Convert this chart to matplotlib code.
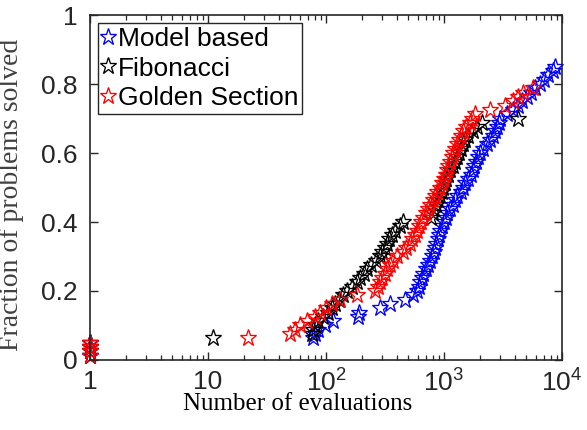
import matplotlib
matplotlib.use('Agg')
import matplotlib.pyplot as plt
from matplotlib.ticker import FixedLocator, LogLocator, NullFormatter

# numero de problemas no perfil
n_problemas = 80

# Model based (azul)
aval_modelo = [1, 1, 1, 1, 78, 80, 86, 98, 115, 187, 190, 287, 349, 467, 546, 590,
               610, 630, 650, 664, 700, 730, 761, 790, 815, 839, 860, 890, 910, 925,
               960, 1000, 1030, 1060, 1130, 1200, 1240, 1300, 1400, 1450, 1520, 1600,
               1680, 1762, 1800, 1880, 1950, 2020, 2150, 2300, 2455, 2600, 2700, 2800,
               2900, 2983, 3400, 3846, 4200, 4600, 5050, 5500, 5900, 6510, 7000, 7600,
               8390, 8800]
resolvidos_modelo = list(range(1, 69))

# Fibonacci (preto)
aval_fib = [1, 1, 1, 1, 11, 76, 78, 80, 86, 95, 105, 112, 120, 130, 139, 150, 165,
            183, 195, 210, 222, 240, 265, 287, 300, 315, 328, 345, 365, 385, 420, 450,
            780, 804, 830, 860, 890, 930, 960, 982, 1010, 1040, 1080, 1130, 1198, 1240,
            1290, 1340, 1400, 1450, 1520, 1600, 1750, 1900, 2100, 4260]
resolvidos_fib = list(range(1, 57))

# Golden Section (vermelho)
aval_ouro = [1, 1, 1, 1, 22, 49.5, 55, 60, 69, 80, 89, 100, 112, 131, 183, 259, 275,
             287, 300, 315, 328, 350, 370, 400, 450, 480, 517, 540, 565, 590, 615, 640,
             664, 700, 730, 761, 804, 840, 880, 925, 960, 1000, 1030, 1060, 1090, 1130,
             1160, 1198, 1250, 1300, 1350, 1400, 1450, 1550, 1650, 1720, 1830, 2455,
             3270, 3846, 4200, 4650, 5640]
resolvidos_ouro = list(range(1, 64))

rotulos_x = ['1', '10', '$10^2$', '$10^3$', '$10^4$']
rotulos_y = ['0', '0.2', '0.4', '0.6', '0.8', '1']

plt.rcParams['font.family'] = 'Liberation Sans'
plt.rcParams['mathtext.fontset'] = 'custom'
plt.rcParams['mathtext.rm'] = 'Liberation Sans'
plt.rcParams['mathtext.it'] = 'Liberation Sans:italic'
plt.rcParams['xtick.direction'] = 'in'
plt.rcParams['ytick.direction'] = 'in'

fig = plt.figure(figsize=(5.87, 4.30), dpi=100)
ax = fig.add_axes([0.1533, 0.1628, 0.8041, 0.8023])

estilo = dict(linestyle='none', marker='*', markersize=12.5, markerfacecolor='none',
              markeredgewidth=0.95, clip_on=False)
ax.plot(aval_modelo, [r / n_problemas for r in resolvidos_modelo],
        markeredgecolor='blue', label='Model based', **estilo)
ax.plot(aval_fib, [r / n_problemas for r in resolvidos_fib],
        markeredgecolor='black', label='Fibonacci', **estilo)
ax.plot(aval_ouro, [r / n_problemas for r in resolvidos_ouro],
        markeredgecolor='red', label='Golden Section', **estilo)

ax.set_xscale('log')
ax.set_xlim(1, 1e4)
ax.set_ylim(0, 1)

ax.xaxis.set_major_locator(FixedLocator([1, 10, 100, 1000, 10000]))
ax.set_xticklabels(rotulos_x)
ax.xaxis.set_minor_locator(LogLocator(base=10, subs=range(2, 10)))
ax.xaxis.set_minor_formatter(NullFormatter())
ax.set_yticks([0, 0.2, 0.4, 0.6, 0.8, 1])
ax.set_yticklabels(rotulos_y)

cinza = '#262626'
for lado in ax.spines.values():
    lado.set_color(cinza)
    lado.set_linewidth(1.2)
ax.tick_params(which='both', top=True, right=True, colors=cinza, labelsize=19)
ax.tick_params(which='major', length=6, width=1.0, pad=7)
ax.tick_params(which='minor', length=3.5, width=0.9)
ax.tick_params(axis='y', pad=9)

ax.set_xlabel('Number of evaluations', fontfamily='Liberation Serif', fontsize=18,
              color='black')
ax.xaxis.set_label_coords(0.44, -0.095)
ax.set_ylabel('Fraction of problems solved', fontfamily='Liberation Serif', fontsize=20,
              color='#404040')
ax.yaxis.set_label_coords(-0.14, 0.478)

leg = ax.legend(loc='upper left', fontsize=19, numpoints=1, handlelength=0.5,
                handletextpad=0.1, labelspacing=0.22, borderpad=0.15,
                borderaxespad=0.3, fancybox=False, framealpha=1,
                edgecolor=cinza)
leg.get_frame().set_linewidth(1.0)

plt.savefig('out.png', dpi=100)
